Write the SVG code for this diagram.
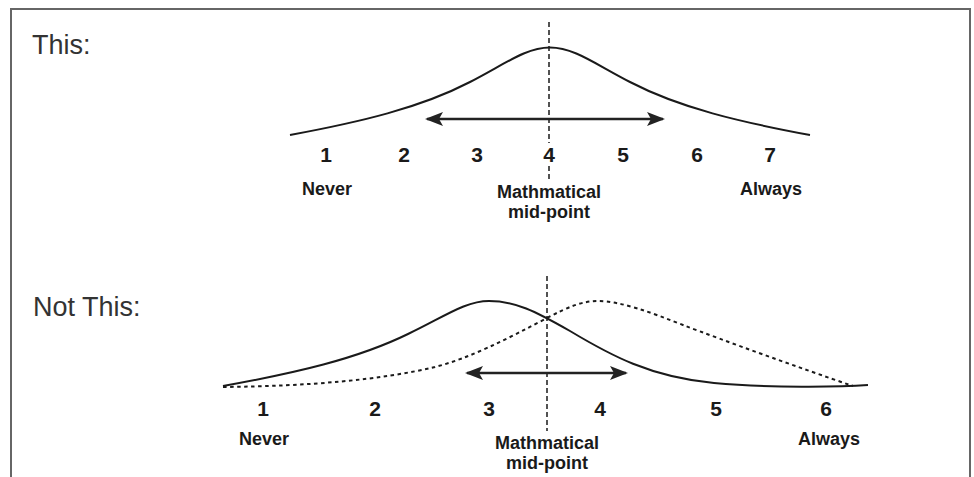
<svg xmlns="http://www.w3.org/2000/svg" width="974" height="477" viewBox="0 0 974 477">
<defs>
<style>
.frame{fill:none;stroke:#666;stroke-width:2}
.title{font-family:"Liberation Sans",Arial,sans-serif;font-size:27px;fill:#333}
.num{font-family:"Liberation Sans",Arial,sans-serif;font-size:21px;font-weight:bold;fill:#1a1a1a;text-anchor:middle}
.lbl{font-family:"Liberation Sans",Arial,sans-serif;font-size:18px;font-weight:bold;fill:#1a1a1a;text-anchor:middle}
.curve{fill:none;stroke:#1a1a1a;stroke-width:2}
.dotc{fill:none;stroke:#1a1a1a;stroke-width:2;stroke-dasharray:3.5 3.5}
.vdash{stroke:#1a1a1a;stroke-width:1.5;stroke-dasharray:5 3}
.arrow{stroke:#222;stroke-width:2.5;marker-start:url(#ah);marker-end:url(#ah)}
</style>
<marker id="ah" viewBox="0 0 18 14" refX="16" refY="7" markerWidth="18" markerHeight="14" markerUnits="userSpaceOnUse" orient="auto-start-reverse">
<path d="M0,0 L18,7 L0,14 L4,7 Z" fill="#222"/>
</marker>
</defs>
<rect width="974" height="477" fill="#fff"/>
<path class="frame" d="M11,480 V9 H970 V480"/>

<g id="top-section">
<text class="title" x="32" y="54">This:</text>
<path id="top-curve" class="curve" d="M290,135 C360,122 420,108 470,82 C505,64 526,47.5 550,47.5 C574,47.5 595,64 630,82 C680,108 740,122 810,135"/>
</g>

<g id="top-scale">
<text class="num" x="326" y="162">1</text>
<text class="num" x="404" y="162">2</text>
<text class="num" x="477" y="162">3</text>
<text class="num" x="549" y="162">4</text>
<text class="num" x="623" y="162">5</text>
<text class="num" x="697" y="162">6</text>
<text class="num" x="770" y="162">7</text>
<text class="lbl" x="327" y="195">Never</text>
<text class="lbl" x="771" y="195">Always</text>
<text class="lbl" x="549" y="197.5">Mathmatical<tspan x="549" dy="20.5">mid-point</tspan></text>
</g>

<g id="bottom-section">
<text class="title" x="33" y="316">Not This:</text>
<path id="solid-curve" class="curve" d="M223,386 C295,373 357,359 408,334 C444,317 465,301 489,301 C515,301 535,311 570,331 C610,355 650,377 714,383 C770,388 840,387 868,385"/>
<path id="dotted-curve" class="dotc" d="M223,387 C310,386 380,380 435,367 C470,358 505,340 547,318 C568,307 582,301 598,301 C620,301 650,312 683,325 C725,341 800,368 853,386"/>
</g>

<g id="bottom-scale">
<text class="num" x="263" y="416">1</text>
<text class="num" x="375" y="416">2</text>
<text class="num" x="489" y="416">3</text>
<text class="num" x="600" y="416">4</text>
<text class="num" x="716" y="416">5</text>
<text class="num" x="826" y="416">6</text>
<text class="lbl" x="264" y="445">Never</text>
<text class="lbl" x="829" y="445">Always</text>
<text class="lbl" x="547" y="448.5">Mathmatical<tspan x="547" dy="20.5">mid-point</tspan></text>
</g>

<g id="connectors">
<line class="vdash" x1="549" y1="22" x2="549" y2="143"/>
<line class="vdash" x1="549" y1="166" x2="549" y2="181"/>
<line class="arrow" x1="427" y1="119" x2="663" y2="119"/>
<line class="vdash" x1="547" y1="276" x2="547" y2="431"/>
<line class="arrow" x1="467" y1="373" x2="626" y2="373"/>
</g>
</svg>
